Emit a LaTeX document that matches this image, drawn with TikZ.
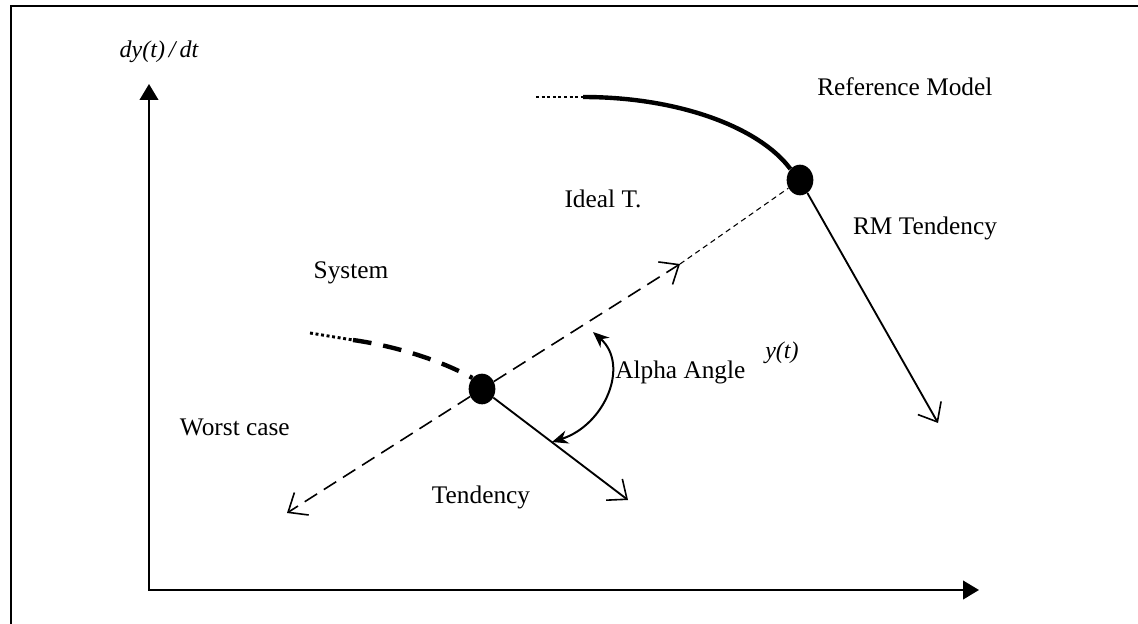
\documentclass[tikz,border=0pt]{standalone}
\usepackage{fontspec}
\setmainfont{Liberation Serif}
\usetikzlibrary{arrows.meta,shapes.geometric}
\tikzset{
  lbl/.style={inner sep=0pt, font=\fontsize{19}{22}\selectfont},
  ilbl/.style={inner sep=0pt, font=\fontsize{18}{21}\selectfont\itshape},
  dotnode/.style={ellipse, fill=black, minimum width=20pt, minimum height=23pt, inner sep=0pt},
  axis/.style={line width=1.5pt, -{Triangle[length=12pt, width=14pt]}},
  barb/.style={-{Straight Barb[length=12pt, width=20pt, line width=1.2pt]}},
  openarrow/.style={line width=1.4pt, barb},
  idealdash/.style={line width=1.2pt, dash pattern=on 11pt off 6pt},
  finedash/.style={line width=0.8pt, dash pattern=on 4pt off 3pt},
  frameline/.style={line width=1.2pt},
}
\begin{document}
\begin{tikzpicture}[x=0.75pt, y=-0.75pt]
\useasboundingbox (0,0) rectangle (1138,624);
% frame (left and top edges only visible)
\draw[frameline] (11,624) -- (11,6) -- (1138,6);
% axes
\coordinate (O) at (149,590);
\coordinate (Ytip) at (149,84);
\coordinate (Xtip) at (979,590);
\draw[axis] (O) -- (Ytip);
\draw[axis] ([xshift=-0.75pt]O) -- (Xtip);
\node[ilbl] (ylab) at (159,52) {dy(t)\,/\,dt};
% points
\node[dotnode] (RM) at (800,180) {};
\node[dotnode] (SYS) at (482,389) {};
% reference model curve
\coordinate (RMa) at (536,97);
\coordinate (RMb) at (583,97);
\draw[line width=2.2pt, dotted] (RMa) -- (RMb);
\draw[line width=3.3pt] (RMb) .. controls (680,97) and (760,128) .. (RM.north west);
% system curve
\coordinate (Sa) at (310,333);
\coordinate (Sb) at (353,340);
\draw[line width=2.2pt, dotted] (Sa) -- (Sb);
\draw[line width=3.3pt, dash pattern=on 14pt off 9pt] (Sb) .. controls (395,346) and (440,360) .. (SYS.north west);
% ideal tendency line
\coordinate (W) at (287,513);
\coordinate (M) at (680,264);
\draw[idealdash, barb] (SYS) -- (W);
\draw[idealdash, barb] (SYS) -- (M);
\draw[finedash] (M) -- (RM);
% tendencies
\coordinate (T) at (628,500);
\coordinate (RT) at (938,423);
\draw[openarrow] (SYS) -- (T);
\draw[openarrow] (RM) -- (RT);
% alpha angle arc
\coordinate (A1) at (552,442);
\coordinate (A2) at (593,332);
\draw[line width=1.5pt, {Stealth[length=12pt, width=10pt]}-{Stealth[length=12pt, width=10pt]}] (A1) .. controls (605,425) and (630,365) .. (A2);
% labels
\node[lbl, anchor=west] (refm) at (817,87) {Reference Model};
\node[lbl] (ideal) at (603,199) {Ideal T.};
\node[lbl] (rmt) at (925,228) {RM Tendency};
\node[lbl] (sys) at (351,273) {System};
\node[lbl, anchor=east] (worst) at (290,427) {Worst case};
\node[lbl] (tend) at (481,497) {Tendency};
\node[lbl, anchor=west] (alpha) at (615,372) {Alpha Angle};
\node[ilbl, anchor=west] (yt) at (765,353) {y(t)};
\end{tikzpicture}
\end{document}
